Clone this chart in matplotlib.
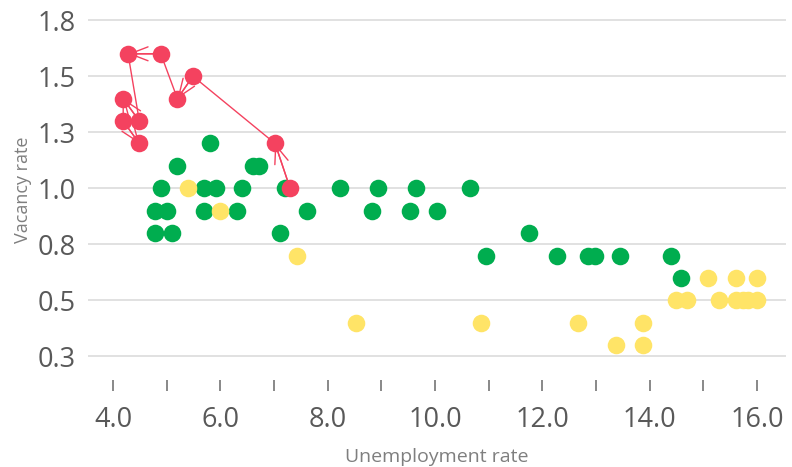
#!/usr/bin/env python3
import numpy as np
import matplotlib
matplotlib.use('Agg')
import matplotlib.pyplot as plt

plt.rcParams['font.family'] = ['Open Sans', 'DejaVu Sans']

# green series
green_x = [4.89, 4.78, 5.0, 4.78, 5.1, 5.2, 5.8, 5.7, 5.92, 5.7, 6.31, 6.41, 6.6, 6.72,
           7.2, 7.11, 7.62, 8.23, 8.93, 9.64, 10.65, 8.83, 9.53, 10.04, 11.75, 10.95,
           12.27, 12.85, 12.98, 13.45, 14.4, 14.58]
green_y = [1.0, 0.9, 0.9, 0.8, 0.8, 1.1, 1.2, 1.0, 1.0, 0.9, 0.9, 1.0, 1.1, 1.1,
           1.0, 0.8, 0.9, 1.0, 1.0, 1.0, 1.0, 0.9, 0.9, 0.9, 0.8, 0.7,
           0.7, 0.7, 0.7, 0.7, 0.7, 0.6]

# yellow series
yellow_x = [5.4, 6.0, 7.42, 8.53, 10.86, 12.66, 13.37, 13.88, 13.88, 14.49, 14.7,
            15.09, 15.29, 15.6, 15.6, 15.74, 15.83, 16.0, 16.0]
yellow_y = [1.0, 0.9, 0.7, 0.4, 0.4, 0.4, 0.3, 0.4, 0.3, 0.5, 0.5,
            0.6, 0.5, 0.6, 0.5, 0.5, 0.5, 0.6, 0.5]

# red series, in path order
red_x = [7.3, 7.02, 5.49, 5.2, 4.89, 4.28, 4.49, 4.19, 4.19, 4.49]
red_y = [1.0, 1.2, 1.5, 1.4, 1.6, 1.6, 1.3, 1.4, 1.3, 1.2]

x_ticks = np.arange(4, 17, 1)
x_labels = ['4.0', '', '6.0', '', '8.0', '', '10.0', '', '12.0', '', '14.0', '', '16.0']
y_ticks = [0.25, 0.5, 0.75, 1.0, 1.25, 1.5, 1.75]
y_labels = ['0.3', '0.5', '0.8', '1.0', '1.3', '1.5', '1.8']

green = '#00ad4f'
yellow = '#ffe467'
red = '#f4425f'
grey = '#595959'

fig = plt.figure(figsize=(7.92, 4.67), dpi=100)
ax = fig.add_axes([88 / 792, 1 - 380 / 467, (786 - 88) / 792, 380 / 467])

ax.scatter(green_x, green_y, s=160, color=green, linewidths=0, zorder=3)
ax.scatter(yellow_x, yellow_y, s=160, color=yellow, linewidths=0, zorder=3)

# red path with arrows on every other step
ax.plot(red_x, red_y, color=red, lw=1, zorder=4)
for i in range(0, len(red_x) - 1, 2):
    ax.annotate('', xy=(red_x[i + 1], red_y[i + 1]), xytext=(red_x[i], red_y[i]),
                arrowprops=dict(arrowstyle='->,head_length=1.3,head_width=0.5',
                                color=red, lw=1, shrinkA=0, shrinkB=0),
                zorder=4)
ax.scatter(red_x, red_y, s=160, color=red, linewidths=0, zorder=5)

ax.set_xlim(3.534, 16.54)
ax.set_ylim(0.145, 1.84)

ax.set_xticks(x_ticks)
ax.set_xticklabels(x_labels)
ax.set_yticks(y_ticks)
ax.set_yticklabels(y_labels)

ax.tick_params(axis='x', direction='out', length=8, width=1.3, color='#7f7f7f',
               labelsize=19.5, labelcolor=grey, pad=11)
ax.tick_params(axis='y', length=0, labelsize=19.5, labelcolor=grey, pad=9)

for s in ax.spines.values():
    s.set_visible(False)

ax.grid(axis='y', color='#dcdcdc', lw=1.2)
ax.set_axisbelow(True)

ax.set_xlabel('Unemployment rate', fontsize=14, color='#7f7f7f', labelpad=10)
ax.set_ylabel('Vacancy rate', fontsize=13, color='#7f7f7f', labelpad=4)

fig.savefig('out.png', dpi=100)
